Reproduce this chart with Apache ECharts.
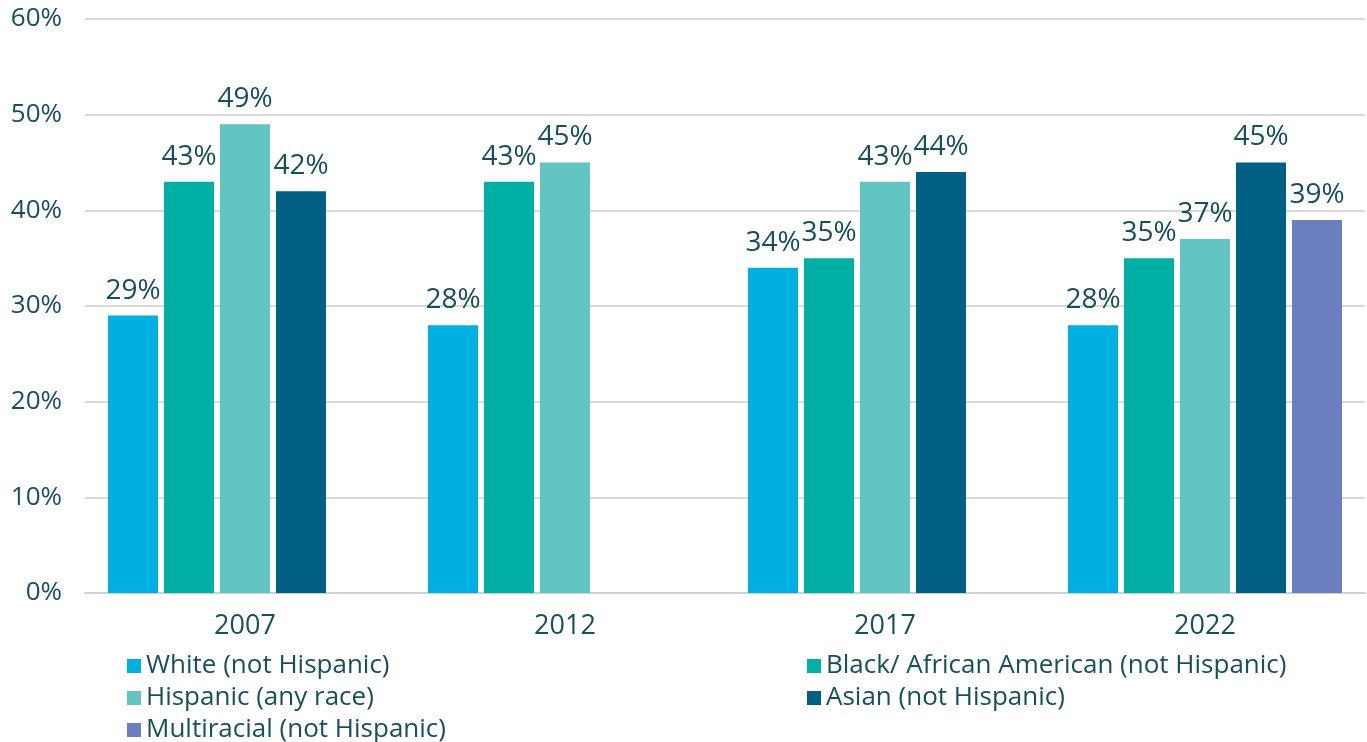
<!DOCTYPE html>
<html>
<head>
<meta charset="utf-8">
<script src="https://cdn.jsdelivr.net/npm/echarts@6/dist/echarts.min.js"></script>
<style>
  html, body { margin: 0; padding: 0; background: #fff; }
  #chart { width: 1367px; height: 742px; }
</style>
</head>
<body>
<div id="chart"></div>
<script>
// data
const years = ['2007', '2012', '2017', '2022'];
const white = [29, 28, 34, 28];
const black = [43, 43, 35, 35];
const hispanic = [49, 45, 43, 37];
const asian = [42, null, 44, 45];
const multiracial = [null, null, null, 39];
const yTicks = [0, 10, 20, 30, 40, 50, 60];

const textColor = '#17505c';
const font = '"Open Sans", Lato, sans-serif';

function bar(name, data, color) {
  return {
    name: name,
    type: 'bar',
    data: data,
    barWidth: 50,
    barGap: '12%',
    itemStyle: { color: color },
    label: {
      show: true,
      position: 'top',
      distance: 11,
      formatter: '{c}%',
      color: textColor,
      fontSize: 28,
      fontFamily: font
    }
  };
}

// two legend blocks: left column and right column
function legendBlock(names, left) {
  return {
    data: names,
    orient: 'vertical',
    left: left, top: 653, height: 120,
    padding: 0,
    itemWidth: 14, itemHeight: 14, itemGap: 6,
    icon: 'rect',
    textStyle: { color: textColor, fontSize: 26, fontFamily: font }
  };
}

let chart = echarts.init(document.getElementById('chart'));
let option = {
  animation: false,
  textStyle: { fontFamily: font },
  grid: { left: 85, right: 2, top: 19, bottom: 149, containLabel: false },
  legend: [
    legendBlock(['White (not Hispanic)', 'Hispanic (any race)', 'Multiracial (not Hispanic)'], 127),
    legendBlock(['Black/ African American (not Hispanic)', 'Asian (not Hispanic)'], 807)
  ],
  xAxis: {
    type: 'category',
    data: years,
    axisTick: { show: false },
    axisLine: { lineStyle: { color: '#d0d0d0', width: 2 } },
    axisLabel: { color: textColor, fontSize: 27, margin: 20, fontFamily: font }
  },
  yAxis: {
    type: 'value',
    min: yTicks[0],
    max: yTicks[yTicks.length - 1],
    interval: 10,
    axisLabel: { formatter: '{value}%', color: textColor, fontSize: 26, margin: 23, fontFamily: font },
    splitLine: { lineStyle: { color: '#d9d9d9', width: 2 } },
    axisLine: { show: false },
    axisTick: { show: false }
  },
  series: [
    bar('White (not Hispanic)', white, '#00b0e0'),
    bar('Black/ African American (not Hispanic)', black, '#00b0a4'),
    bar('Hispanic (any race)', hispanic, '#62c5c2'),
    bar('Asian (not Hispanic)', asian, '#006083'),
    bar('Multiracial (not Hispanic)', multiracial, '#6b7ebf')
  ]
};
chart.setOption(option);
window.addEventListener('resize', function () { chart.resize(); });
</script>
</body>
</html>
